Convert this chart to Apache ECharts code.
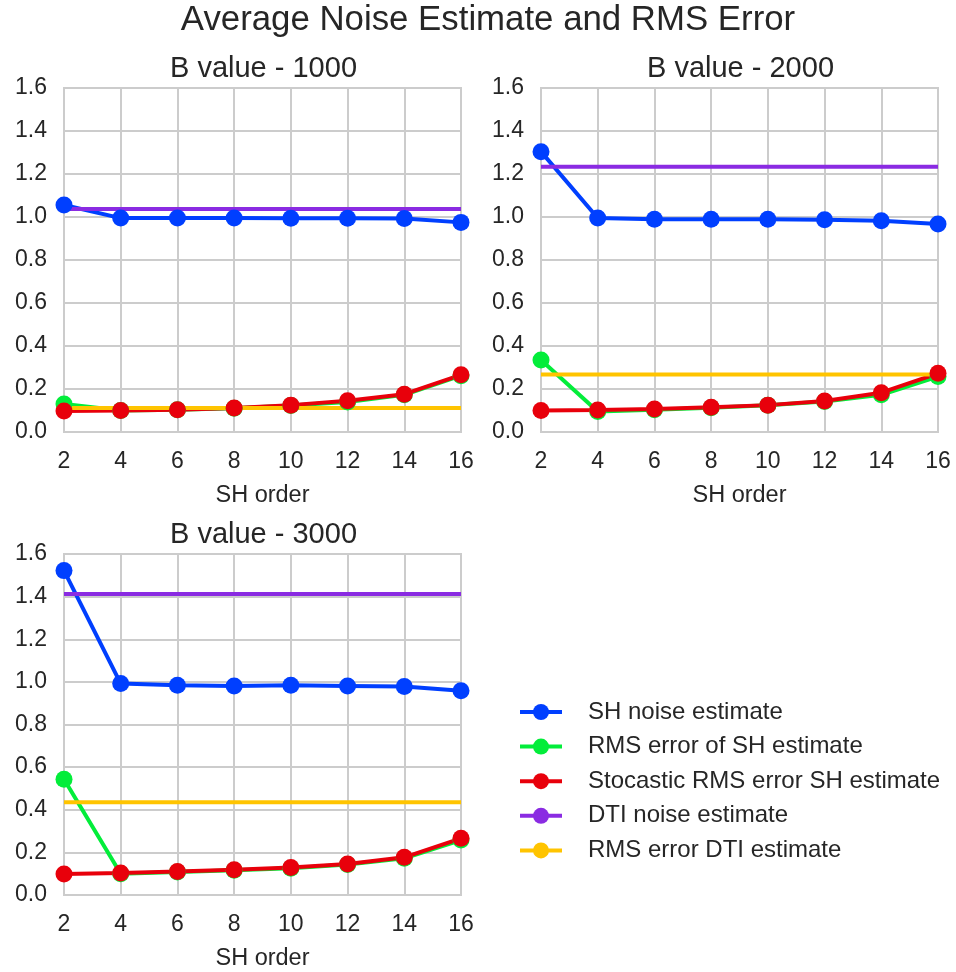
<!DOCTYPE html>
<html>
<head>
<meta charset="utf-8">
<script src="https://cdn.jsdelivr.net/npm/echarts@6/dist/echarts.min.js"></script>
<style>
html,body{margin:0;padding:0;background:#fff;}
#chart{width:956px;height:972px;}
</style>
</head>
<body>
<div id="chart"></div>
<script>
// ---- data ----
const shOrders = [2, 4, 6, 8, 10, 12, 14, 16];
const yTicks = [0.0, 0.2, 0.4, 0.6, 0.8, 1.0, 1.2, 1.4, 1.6];
const panelTitles = ['B value - 1000', 'B value - 2000', 'B value - 3000'];
const seriesNames = ['SH noise estimate', 'RMS error of SH estimate', 'Stocastic RMS error SH estimate', 'DTI noise estimate', 'RMS error DTI estimate'];

const shNoise1000 = [1.056, 0.995, 0.995, 0.995, 0.994, 0.994, 0.993, 0.975];
const rmsSH1000   = [0.130, 0.100, 0.103, 0.110, 0.123, 0.140, 0.173, 0.262];
const stocRMS1000 = [0.098, 0.100, 0.104, 0.112, 0.125, 0.145, 0.176, 0.266];
const dtiNoise1000 = 1.037;
const rmsDTI1000 = 0.112;

const shNoise2000 = [1.304, 0.995, 0.990, 0.990, 0.990, 0.987, 0.983, 0.967];
const rmsSH2000   = [0.335, 0.095, 0.104, 0.113, 0.124, 0.142, 0.173, 0.258];
const stocRMS2000 = [0.100, 0.102, 0.107, 0.115, 0.125, 0.144, 0.183, 0.273];
const dtiNoise2000 = 1.234;
const rmsDTI2000 = 0.268;

const shNoise3000 = [1.522, 0.992, 0.984, 0.981, 0.984, 0.981, 0.978, 0.958];
const rmsSH3000   = [0.543, 0.100, 0.108, 0.116, 0.126, 0.143, 0.172, 0.258];
const stocRMS3000 = [0.099, 0.103, 0.110, 0.118, 0.129, 0.145, 0.177, 0.266];
const dtiNoise3000 = 1.412;
const rmsDTI3000 = 0.435;

// ---- styling ----
const colors = ['#003FFF', '#03ED3A', '#E8000B', '#8A2BE2', '#FFC400'];
const txt = '#262626';
const gridC = '#CCCCCC';
const FONT = '"Liberation Sans", Arial, sans-serif';

const panels = [
  {sh: shNoise1000, rms: rmsSH1000, stoc: stocRMS1000, dti: dtiNoise1000, rdti: rmsDTI1000},
  {sh: shNoise2000, rms: rmsSH2000, stoc: stocRMS2000, dti: dtiNoise2000, rdti: rmsDTI2000},
  {sh: shNoise3000, rms: rmsSH3000, stoc: stocRMS3000, dti: dtiNoise3000, rdti: rmsDTI3000}
];
const gridPos = [
  {left: 64, top: 88, width: 397, height: 344},
  {left: 541, top: 88, width: 397, height: 344},
  {left: 64, top: 554, width: 397, height: 343}
];

const grids = [], xAxes = [], yAxes = [], series = [];
const titles = [{
  text: 'Average Noise Estimate and RMS Error',
  left: 488, top: 3, padding: 0, textAlign: 'center',
  textStyle: {fontFamily: FONT, fontSize: 34.8, fontWeight: 'normal', color: txt}
}];

panels.forEach((p, i) => {
  const g = gridPos[i];
  grids.push(Object.assign({show: true, borderColor: gridC, borderWidth: 2, backgroundColor: '#fff', containLabel: false}, g));
  titles.push({
    text: panelTitles[i],
    left: g.left + g.width / 2 + 1, top: g.top - 34, padding: 0, textAlign: 'center',
    textStyle: {fontFamily: FONT, fontSize: 29, fontWeight: 'normal', color: txt}
  });
  xAxes.push({
    type: 'value', gridIndex: i, min: shOrders[0], max: shOrders[shOrders.length - 1], interval: 2,
    name: 'SH order', nameLocation: 'middle', nameGap: 52,
    nameTextStyle: {fontFamily: FONT, fontSize: 23.5, color: txt},
    axisLine: {show: true, lineStyle: {color: gridC, width: 2}},
    axisTick: {show: false},
    axisLabel: {fontFamily: FONT, fontSize: 23, color: txt, margin: 18},
    splitLine: {show: true, lineStyle: {color: gridC, width: 2}}
  });
  yAxes.push({
    type: 'value', gridIndex: i, min: yTicks[0], max: yTicks[yTicks.length - 1], interval: 0.2,
    axisLine: {show: true, lineStyle: {color: gridC, width: 2}},
    axisTick: {show: false},
    axisLabel: {fontFamily: FONT, fontSize: 23, color: txt, margin: 17, formatter: v => v.toFixed(1)},
    splitLine: {show: true, lineStyle: {color: gridC, width: 2}}
  });
  const mk = (arr) => shOrders.map((x, k) => [x, arr[k]]);
  const flat = (v) => [[shOrders[0], v], [shOrders[shOrders.length - 1], v]];
  const lineS = (name, data, color, sym) => ({
    type: 'line', name, xAxisIndex: i, yAxisIndex: i, data,
    symbol: sym ? 'circle' : 'none', symbolSize: 17, showSymbol: sym,
    lineStyle: {color, width: 4}, itemStyle: {color},
    animation: false, clip: true, emphasis: {disabled: true}
  });
  series.push(lineS(seriesNames[0], mk(p.sh), colors[0], true));
  series.push(lineS(seriesNames[1], mk(p.rms), colors[1], true));
  series.push(lineS(seriesNames[2], mk(p.stoc), colors[2], true));
  series.push(lineS(seriesNames[3], flat(p.dti), colors[3], false));
  series.push(lineS(seriesNames[4], flat(p.rdti), colors[4], false));
});

const chart = echarts.init(document.getElementById('chart'), null, {renderer: 'canvas'});
chart.setOption({
  backgroundColor: '#fff',
  animation: false,
  title: titles,
  grid: grids,
  xAxis: xAxes,
  yAxis: yAxes,
  legend: {
    data: seriesNames,
    orient: 'vertical', left: 518, top: 700, padding: 0,
    itemWidth: 42, itemHeight: 20, itemGap: 10.6,
    lineStyle: {width: 4},
    textStyle: {fontFamily: FONT, fontSize: 24, color: txt, lineHeight: 20, padding: [0, 0, 0, 21]},
    selectedMode: false
  },
  series
});
</script>
</body>
</html>
